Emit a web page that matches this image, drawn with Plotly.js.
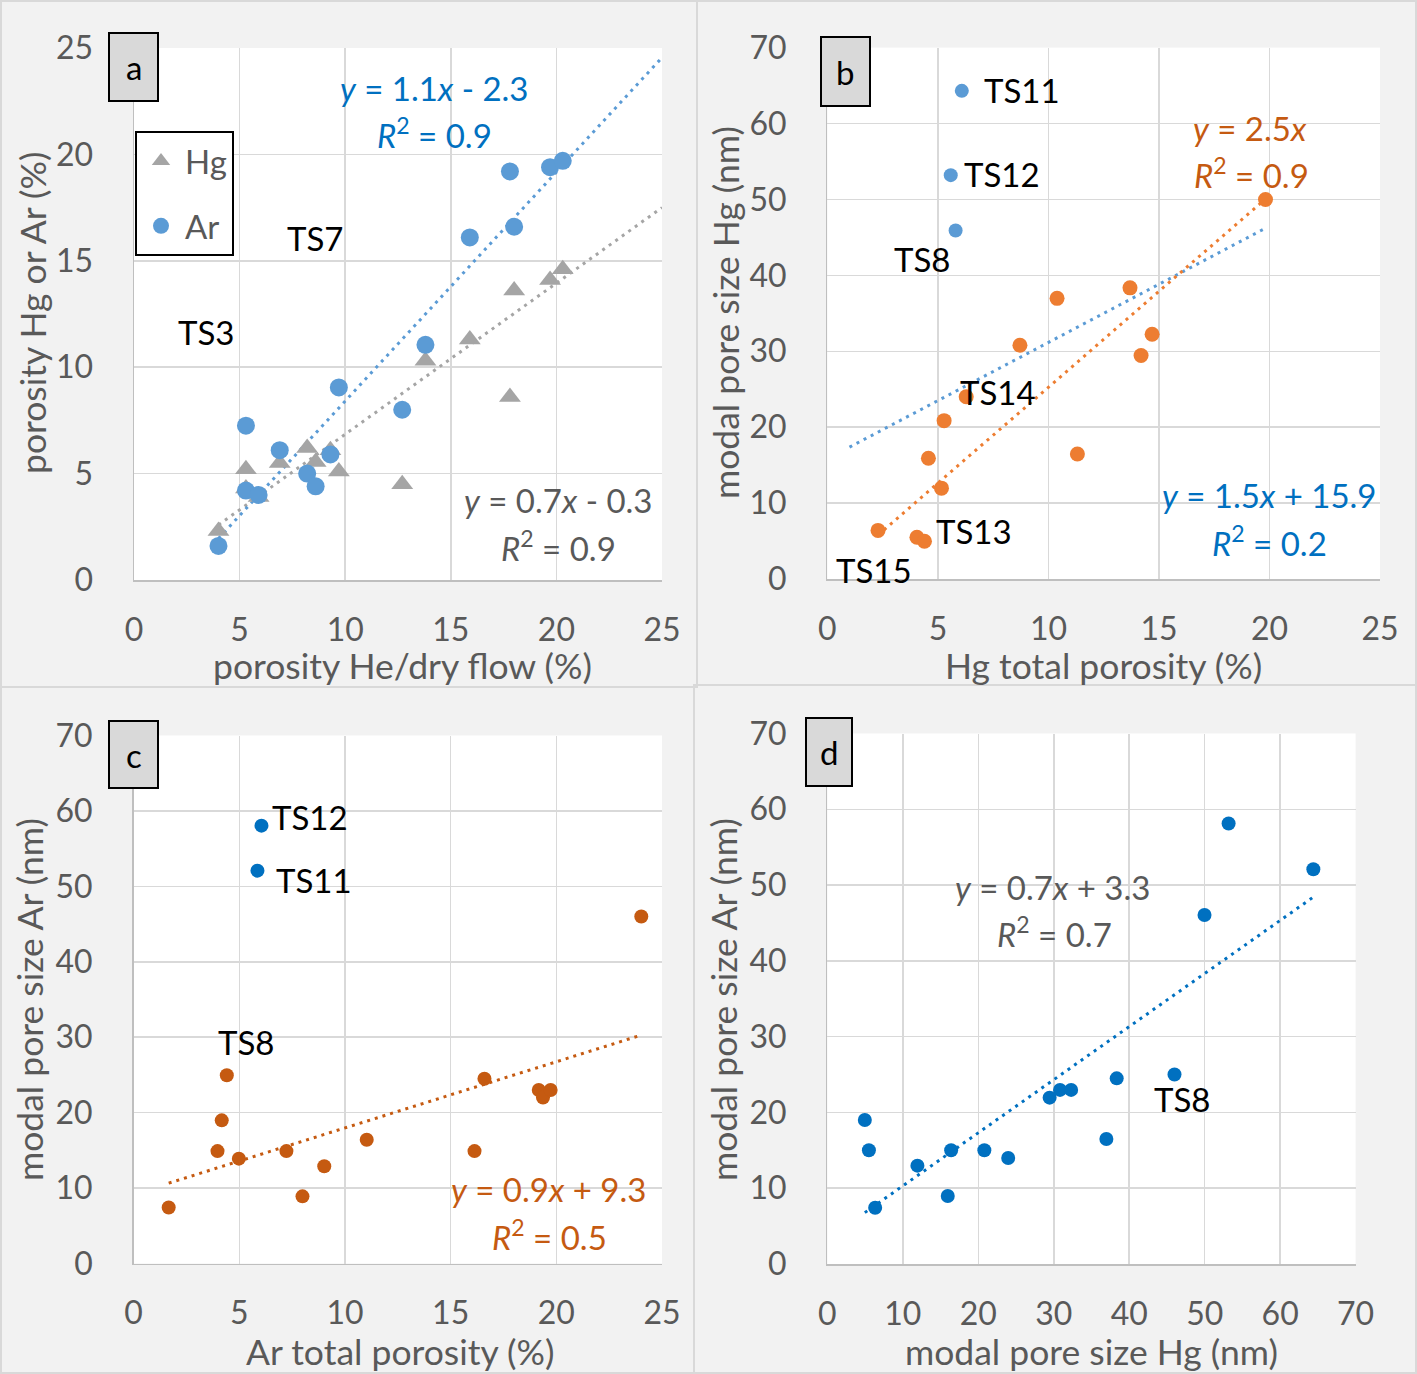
<!DOCTYPE html>
<html>
<head>
<meta charset="utf-8">
<script src="https://cdn.plot.ly/plotly-3.0.1.min.js"></script>
<style>html,body{margin:0;padding:0;background:#f2f2f2;}#chart{width:1417px;height:1374px;}</style>
</head>
<body>
<div id="chart"></div>
<script>
// ---------------- DATA ----------------
// Panel a: porosity He/dry flow vs porosity Hg / Ar (%)
const aHe = [4.0, 5.3, 5.3, 5.9, 6.9, 8.2, 8.6, 9.3, 9.7, 12.7, 13.8, 15.9, 17.8, 18.0, 19.7, 20.3];
const aAr = [1.6, 7.25, 4.2, 4.0, 6.1, 5.0, 4.4, 5.9, 9.05, 8.0, 11.05, 16.1, 19.2, 16.6, 19.4, 19.7];
const aHg = [2.3, 5.2, 4.3, 3.9, 5.5, 6.2, 5.55, 6.1, 5.1, 4.5, 10.3, 11.3, 8.6, 13.6, 14.1, 14.6];
// Hg trendline as drawn in the figure (slope, intercept; shown rounded as y = 0.7x - 0.3)
const aHgFit = [0.71, -0.25];
const aEqAr = ["<i>y</i> = 1.1<i>x</i> - 2.3", "<i>R</i><sup>2</sup> = 0.9"];
const aEqHg = ["<i>y</i> = 0.7<i>x</i> - 0.3", "<i>R</i><sup>2</sup> = 0.9"];

// Panel b: Hg total porosity (%) vs modal pore size Hg (nm)
const bMainX = [2.29, 4.05, 4.39, 4.57, 5.16, 5.28, 6.28, 8.71, 10.39, 11.31, 13.69, 14.19, 14.69, 19.82];
const bMainY = [6.4, 5.5, 4.98, 15.9, 11.97, 20.86, 24.0, 30.8, 36.97, 16.46, 38.35, 29.45, 32.25, 50.0];
const bOutNames = ["TS11", "TS12", "TS8"];
const bOutX = [6.08, 5.58, 5.80];
const bOutY = [64.3, 53.2, 45.9];
const bEqOrange = ["<i>y</i> = 2.5<i>x</i>", "<i>R</i><sup>2</sup> = 0.9"];
const bEqBlue = ["<i>y</i> = 1.5<i>x</i> + 15.9", "<i>R</i><sup>2</sup> = 0.2"];

// Panel c: Ar total porosity (%) vs modal pore size Ar (nm)
const cMainX = [1.66, 3.97, 4.17, 4.41, 4.98, 7.23, 7.99, 9.02, 11.03, 16.13, 16.6, 19.17, 19.37, 19.73, 24.02];
const cMainY = [7.43, 14.9, 18.98, 24.96, 13.9, 14.9, 8.9, 12.9, 16.4, 14.9, 24.5, 23.0, 22.0, 23.0, 46.0];
const cOutNames = ["TS12", "TS11"];
const cOutX = [6.05, 5.86];
const cOutY = [58.05, 52.08];
const cEq = ["<i>y</i> = 0.9<i>x</i> + 9.3", "<i>R</i><sup>2</sup> = 0.5"];

// Panel d: modal pore size Hg (nm) vs modal pore size Ar (nm)
const dHg = [4.96, 5.5, 6.33, 11.93, 15.95, 16.4, 20.8, 23.96, 29.45, 30.83, 32.3, 36.97, 38.34, 46.0, 49.98, 53.17, 64.4];
const dAr = [19.0, 15.0, 7.43, 12.98, 8.97, 15.0, 15.0, 13.99, 21.95, 22.97, 22.97, 16.5, 24.5, 25.0, 46.06, 58.12, 52.09];
const dEq = ["<i>y</i> = 0.7<i>x</i> + 3.3", "<i>R</i><sup>2</sup> = 0.7"];

// axis titles, labels
const titles = {
  ax: "porosity He/dry flow (%)", ay: "porosity Hg or Ar (%)",
  bx: "Hg total porosity (%)", by: "modal pore size Hg (nm)",
  cx: "Ar total porosity (%)", cy: "modal pore size Ar (nm)",
  dx: "modal pore size Hg (nm)", dy: "modal pore size Ar (nm)"
};
const panelLetters = ["a", "b", "c", "d"];
const legendNames = ["Hg", "Ar"];

// ---------------- HELPERS ----------------
const W = 1417, H = 1374;
const FONT = "Lato, 'Open Sans', 'Noto Sans', sans-serif";
const FS = 33, FT = 35.5, FTICK = 32;
const px = x => x / W;
const py = y => 1 - y / H;

function linfit(xs, ys) {
  const n = xs.length;
  const mx = xs.reduce((s, v) => s + v, 0) / n;
  const my = ys.reduce((s, v) => s + v, 0) / n;
  let sxy = 0, sxx = 0;
  for (let i = 0; i < n; i++) { sxy += (xs[i] - mx) * (ys[i] - my); sxx += (xs[i] - mx) ** 2; }
  const m = sxy / sxx;
  return { m: m, b: my - m * mx };
}
function linfit0(xs, ys) {
  let sxy = 0, sxx = 0;
  for (let i = 0; i < xs.length; i++) { sxy += xs[i] * ys[i]; sxx += xs[i] * xs[i]; }
  return { m: sxy / sxx, b: 0 };
}
function trend(fit, x0, x1, color, xa, ya) {
  return {
    x: [x0, x1], y: [fit.m * x0 + fit.b, fit.m * x1 + fit.b],
    xaxis: xa, yaxis: ya, mode: "lines", showlegend: false, hoverinfo: "skip",
    line: { color: color, width: 3, dash: "3px,5px" }
  };
}
const min = a => Math.min.apply(null, a);
const max = a => Math.max.apply(null, a);

const C = {
  blue: "#5b9bd5", darkblue: "#0070c0", grey: "#a5a5a5", orange: "#ed7d31",
  brown: "#c55a11", text: "#595959", eqOrange: "#c55a11"
};

// ---------------- TRACES ----------------
const traces = [];
// Panel a
const fitAHg = { m: aHgFit[0], b: aHgFit[1] }, fitAAr = linfit(aHe, aAr);
traces.push(trend(fitAHg, min(aHe), 25, C.grey, "x", "y"));
traces.push(trend(fitAAr, min(aHe), 25, C.blue, "x", "y"));
traces.push({ x: aHe, y: aHg, xaxis: "x", yaxis: "y", mode: "markers", name: legendNames[0],
  legendgroup: "g1", legendrank: 1,
  marker: { symbol: "triangle-up", size: 19, color: C.grey } });
traces.push({ x: aHe, y: aAr, xaxis: "x", yaxis: "y", mode: "markers", name: legendNames[1],
  legendgroup: "g2", legendrank: 2,
  marker: { symbol: "circle", size: 18, color: C.blue } });

// Panel b
const bAllX = bMainX.concat(bOutX), bAllY = bMainY.concat(bOutY);
const fitBAll = linfit(bAllX, bAllY), fitBMain = linfit0(bMainX, bMainY);
traces.push(trend(fitBAll, 1.0, max(bAllX), C.blue, "x2", "y2"));
traces.push(trend(fitBMain, min(bMainX), max(bMainX), C.orange, "x2", "y2"));
traces.push({ x: bMainX, y: bMainY, xaxis: "x2", yaxis: "y2", mode: "markers", showlegend: false,
  marker: { size: 15, color: C.orange } });
traces.push({ x: bOutX, y: bOutY, xaxis: "x2", yaxis: "y2", mode: "markers", showlegend: false,
  text: bOutNames, marker: { size: 14, color: C.blue } });

// Panel c
const fitC = linfit(cMainX, cMainY);
traces.push(trend(fitC, min(cMainX), max(cMainX), C.brown, "x3", "y3"));
traces.push({ x: cMainX, y: cMainY, xaxis: "x3", yaxis: "y3", mode: "markers", showlegend: false,
  marker: { size: 14, color: C.brown } });
traces.push({ x: cOutX, y: cOutY, xaxis: "x3", yaxis: "y3", mode: "markers", showlegend: false,
  text: cOutNames, marker: { size: 14, color: C.darkblue } });

// Panel d
const fitD = linfit(dHg, dAr);
traces.push(trend(fitD, min(dHg), max(dHg), C.darkblue, "x4", "y4"));
traces.push({ x: dHg, y: dAr, xaxis: "x4", yaxis: "y4", mode: "markers", showlegend: false,
  marker: { size: 14, color: C.darkblue } });

// ---------------- LAYOUT ----------------
function xAx(dom, range, dtick, anchor) {
  return {
    domain: dom, range: range, dtick: dtick, tick0: 0, anchor: anchor,
    showgrid: true, gridcolor: "#d9d9d9", gridwidth: 1.5, zeroline: false,
    showline: true, linecolor: "#bfbfbf", linewidth: 1.5, mirror: false,
    ticks: "", ticklabelstandoff: 21, tickfont: { family: FONT, size: FTICK, color: C.text },
    fixedrange: true, automargin: false
  };
}
function yAx(dom, range, dtick, anchor) {
  const a = xAx(dom, range, dtick, anchor);
  a.ticklabelstandoff = 33;
  return a;
}

const annotations = [];
function ann(text, x, y, color, size, angle) {
  annotations.push({ xref: "paper", yref: "paper", x: px(x), y: py(y), text: text, showarrow: false,
    xanchor: "center", yanchor: "middle", textangle: angle || 0,
    font: { family: FONT, size: size || FS, color: color } });
}
// axis titles
ann(titles.ax, 402, 665, C.text, FT);
ann(titles.ay, 32, 313, C.text, FT, -90);
ann(titles.bx, 1103, 665, C.text, FT);
ann(titles.by, 725, 313, C.text, FT, -90);
ann(titles.cx, 400, 1351, C.text, FT);
ann(titles.cy, 29, 1000, C.text, FT, -90);
ann(titles.dx, 1091, 1351, C.text, FT);
ann(titles.dy, 723, 1000, C.text, FT, -90);
// panel a texts
ann("TS7", 315, 238, "#000");
ann("TS3", 206, 332, "#000");
ann(aEqAr[0], 434, 88, C.darkblue);
ann(aEqAr[1], 434, 133, C.darkblue);
ann(aEqHg[0], 558, 500, C.text);
ann(aEqHg[1], 558, 546, C.text);
// panel b texts
ann(bOutNames[0], 1022, 90, "#000");
ann(bOutNames[1], 1002, 174, "#000");
ann(bOutNames[2], 922, 259, "#000");
ann("TS14", 998, 392, "#000");
ann("TS13", 974, 531, "#000");
ann("TS15", 874, 570, "#000");
ann(bEqOrange[0], 1250, 128, C.eqOrange);
ann(bEqOrange[1], 1251, 173, C.eqOrange);
ann(bEqBlue[0], 1269, 495, C.darkblue);
ann(bEqBlue[1], 1269, 541, C.darkblue);
// panel c texts
ann(cOutNames[0], 310, 817, "#000");
ann(cOutNames[1], 314, 880, "#000");
ann("TS8", 246, 1042, "#000");
ann(cEq[0], 548, 1189, C.eqOrange);
ann(cEq[1], 549, 1235, C.eqOrange);
// panel d texts
ann(dEq[0], 1052, 887, C.text);
ann(dEq[1], 1054, 932, C.text);
ann("TS8", 1182, 1099, "#000");

const letterBoxes = [[109, 33, 158, 101], [821, 37, 870, 106], [109, 721, 158, 788], [806, 718, 852, 786]];
const shapes = [];
const frames = [[1, 1, 697, 687], [697, 1, 1416, 685], [1, 687, 694, 1373], [694, 685, 1416, 1373]];
frames.forEach(f => shapes.push({ type: "rect", xref: "paper", yref: "paper", layer: "below",
  x0: px(f[0]), x1: px(f[2]), y0: py(f[1]), y1: py(f[3]), line: { color: "#d9d9d9", width: 2 } }));
letterBoxes.forEach((b, i) => {
  shapes.push({ type: "rect", xref: "paper", yref: "paper", layer: "above",
    x0: px(b[0]), x1: px(b[2]), y0: py(b[1]), y1: py(b[3]),
    fillcolor: "#d9d9d9", line: { color: "#000", width: 2 } });
  annotations.push({ xref: "paper", yref: "paper", x: px((b[0] + b[2]) / 2), y: py((b[1] + b[3]) / 2),
    text: panelLetters[i], showarrow: false, xanchor: "center", yanchor: "middle",
    font: { family: FONT, size: FS, color: "#000" } });
});

const layout = {
  width: W, height: H, margin: { l: 0, r: 0, t: 0, b: 0 },
  paper_bgcolor: "#f2f2f2", plot_bgcolor: "#ffffff",
  font: { family: FONT, size: FS, color: C.text },
  showlegend: true,
  legend: { x: px(135), y: py(131), xanchor: "left", yanchor: "top", bgcolor: "#ffffff",
    bordercolor: "#000", borderwidth: 2, font: { family: FONT, size: FS, color: C.text },
    tracegroupgap: 19, traceorder: "grouped", itemwidth: 38 },
  xaxis: xAx([px(134), px(662)], [0, 25], 5, "y"),
  yaxis: yAx([py(580), py(48)], [0, 25], 5, "x"),
  xaxis2: xAx([px(827.4), px(1380)], [0, 25], 5, "y2"),
  yaxis2: yAx([py(579), py(47.6)], [0, 70], 10, "x2"),
  xaxis3: xAx([px(133.6), px(662)], [0, 25], 5, "y3"),
  yaxis3: yAx([py(1263.5), py(735.5)], [0, 70], 10, "x3"),
  xaxis4: xAx([px(827.4), px(1355.6)], [0, 70], 10, "y4"),
  yaxis4: yAx([py(1264), py(733.5)], [0, 70], 10, "x4"),
  shapes: shapes, annotations: annotations
};

Plotly.newPlot("chart", traces, layout, { staticPlot: true, displayModeBar: false });
</script>
</body>
</html>
